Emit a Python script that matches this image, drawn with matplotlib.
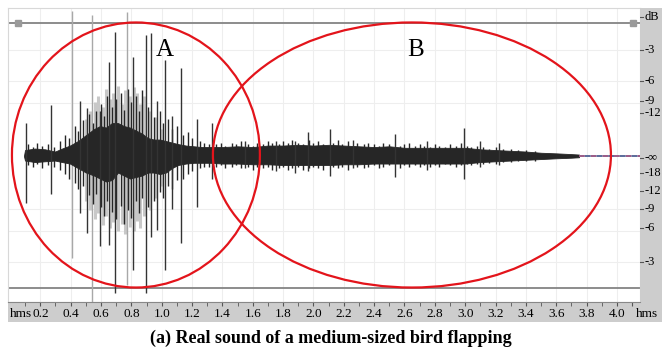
import matplotlib.pyplot as plt
from matplotlib.patches import Ellipse

# dense core of the waveform (dark), seconds / normalised amplitude
body_t = [0.092, 0.099, 0.165, 0.231, 0.297, 0.343, 0.395, 0.448, 0.501, 0.554,
          0.593, 0.633, 0.672, 0.712, 0.751, 0.791, 0.830, 0.870, 0.909, 0.949,
          0.988, 1.028, 1.068, 1.107, 1.160, 1.213, 1.265, 1.318,
          1.40, 1.50, 1.60, 1.70, 1.80, 1.90, 2.00, 2.10, 2.20, 2.30,
          2.40, 2.50, 2.60, 2.70, 2.80, 2.90, 3.00, 3.10, 3.20, 3.30,
          3.40, 3.50, 3.60, 3.70, 3.75]
body_top = [0.0, 0.04, 0.05, 0.045, 0.03, 0.05, 0.07, 0.10, 0.14, 0.18,
            0.20, 0.19, 0.22, 0.22, 0.20, 0.19, 0.17, 0.15, 0.12, 0.11,
            0.11, 0.10, 0.09, 0.08, 0.07, 0.065, 0.06, 0.06,
            0.06, 0.065, 0.06, 0.07, 0.07, 0.075, 0.07, 0.075, 0.07, 0.065,
            0.06, 0.065, 0.055, 0.055, 0.055, 0.055, 0.055, 0.045, 0.04, 0.035,
            0.03, 0.022, 0.018, 0.013, 0.01]
body_bot = [0.0, -0.03, -0.04, -0.035, -0.03, -0.04, -0.05, -0.08, -0.11, -0.13,
            -0.15, -0.17, -0.16, -0.11, -0.13, -0.15, -0.14, -0.13, -0.11, -0.11,
            -0.12, -0.11, -0.08, -0.06, -0.05, -0.045, -0.045, -0.045,
            -0.05, -0.05, -0.055, -0.055, -0.06, -0.06, -0.06, -0.06, -0.055, -0.055,
            -0.05, -0.05, -0.05, -0.05, -0.05, -0.05, -0.05, -0.04, -0.035, -0.03,
            -0.025, -0.02, -0.015, -0.011, -0.008]

# fine hairs of the dense part
hair_t = [0.12, 0.15, 0.18, 0.21, 0.25, 0.29, 0.33, 0.36, 0.39, 0.43,
          0.45, 0.48, 0.52, 0.55, 0.57, 0.60, 0.62, 0.64, 0.67, 0.70,
          0.73, 0.75, 0.78, 0.80, 0.83, 0.85, 0.87, 0.91, 0.95, 0.99,
          1.01, 1.04, 1.07, 1.10, 1.14, 1.17, 1.20, 1.25, 1.28, 1.31,
          1.36, 1.39, 1.42, 1.46, 1.49, 1.52, 1.57, 1.60, 1.63, 1.67,
          1.70, 1.73, 1.77, 1.80, 1.83, 1.86, 1.90, 1.93, 1.97, 2.00,
          2.03, 2.06, 2.13, 2.16, 2.19, 2.23, 2.29, 2.33, 2.36, 2.40,
          2.43, 2.46, 2.50, 2.57, 2.60, 2.63, 2.67, 2.70, 2.73, 2.77,
          2.80, 2.83, 2.87, 2.90, 2.94, 2.97, 3.01, 3.04, 3.08, 3.12,
          3.16, 3.20, 3.25, 3.30, 3.35, 3.40, 3.46]
hair_top = [0.08, 0.06, 0.09, 0.07, 0.08, 0.06, 0.10, 0.14, 0.12, 0.20,
            0.17, 0.24, 0.28, 0.22, 0.30, 0.35, 0.27, 0.40, 0.33, 0.38,
            0.42, 0.31, 0.45, 0.36, 0.40, 0.30, 0.44, 0.33, 0.26, 0.30,
            0.22, 0.25, 0.18, 0.20, 0.14, 0.16, 0.12, 0.10, 0.09, 0.08,
            0.08, 0.09, 0.07, 0.09, 0.08, 0.10, 0.08, 0.07, 0.09, 0.08,
            0.10, 0.09, 0.08, 0.10, 0.09, 0.11, 0.09, 0.08, 0.11, 0.09,
            0.10, 0.08, 0.09, 0.11, 0.08, 0.10, 0.09, 0.08, 0.09, 0.08,
            0.07, 0.09, 0.08, 0.07, 0.08, 0.09, 0.07, 0.08, 0.07, 0.06,
            0.08, 0.07, 0.06, 0.08, 0.07, 0.09, 0.07, 0.06, 0.07, 0.06,
            0.05, 0.06, 0.05, 0.045, 0.04, 0.04, 0.035]
hair_bot = [-0.06, -0.07, -0.05, -0.08, -0.06, -0.07, -0.09, -0.12, -0.15, -0.18,
            -0.22, -0.20, -0.26, -0.32, -0.25, -0.34, -0.40, -0.30, -0.37, -0.42,
            -0.33, -0.45, -0.36, -0.41, -0.30, -0.38, -0.28, -0.34, -0.30, -0.24,
            -0.28, -0.20, -0.22, -0.16, -0.15, -0.12, -0.10, -0.08, -0.07, -0.07,
            -0.07, -0.06, -0.08, -0.07, -0.06, -0.08, -0.07, -0.09, -0.07, -0.08,
            -0.07, -0.09, -0.08, -0.07, -0.09, -0.08, -0.07, -0.09, -0.08, -0.07,
            -0.08, -0.09, -0.07, -0.08, -0.07, -0.09, -0.07, -0.08, -0.07, -0.06,
            -0.08, -0.07, -0.06, -0.08, -0.06, -0.07, -0.06, -0.07, -0.06, -0.07,
            -0.06, -0.07, -0.05, -0.06, -0.07, -0.06, -0.05, -0.06, -0.05, -0.05,
            -0.045, -0.05, -0.04, -0.04, -0.035, -0.03, -0.03]

# light grey traces in the loud part
light_t = [0.50, 0.53, 0.56, 0.58, 0.61, 0.63, 0.66, 0.68, 0.71, 0.74,
           0.76, 0.79, 0.82, 0.84, 0.86, 0.88, 0.92, 0.96, 1.00]
light_top = [0.25, 0.30, 0.36, 0.40, 0.33, 0.45, 0.38, 0.42, 0.47, 0.35,
             0.44, 0.40, 0.46, 0.42, 0.35, 0.40, 0.30, 0.26, 0.18]
light_bot = [-0.30, -0.36, -0.42, -0.38, -0.46, -0.40, -0.48, -0.44, -0.50, -0.45,
             -0.52, -0.47, -0.50, -0.43, -0.48, -0.40, -0.36, -0.28, -0.20]

# single peaks
spike_t = [0.105, 0.270, 0.461, 0.507, 0.593, 0.652, 0.692, 0.811, 0.896, 0.929,
           0.969, 1.021, 1.068, 1.127, 1.232, 1.331,
           1.55, 1.753, 1.878, 1.964, 2.109, 2.260, 2.537, 2.75, 2.992, 3.10, 3.22]
spike_top = [0.22, 0.34, 0.37, 0.32, 0.30, 0.63, 0.83, 0.66, 0.81, 0.82,
             0.37, 0.64, 0.27, 0.59, 0.25, 0.22,
             0.10, 0.10, 0.10, 0.16, 0.18, 0.11, 0.15, 0.10, 0.19, 0.10, 0.09]
spike_bot = [-0.31, -0.25, -0.38, -0.51, -0.60, -0.59, -0.91, -0.76, -0.91, -0.54,
             -0.49, -0.76, -0.35, -0.58, -0.34, -0.15,
             -0.08, -0.10, -0.11, -0.10, -0.13, -0.08, -0.14, -0.09, -0.15, -0.07, -0.06]
# thin light lines that reach the top
tall_t = [0.409, 0.540, 0.771]
tall_top = [0.97, 0.94, 0.96]
tall_bot = [-0.68, -0.97, -0.86]

# tail of the clip drawn as a dashed trace
tail_t = [3.75, 4.15]

# annotation ellipses: centre t, centre amp, width s, height amp
ell_name = ["A", "B"]
ell_cx = [0.830, 2.649]
ell_cy = [0.007, 0.007]
ell_w = [1.634, 2.623]
ell_h = [1.767, 1.767]
lab_t = [1.021, 2.675]
lab_a = [0.71, 0.71]

db_labels = ["dB", "-3", "-6", "-9", "-12", "-\u221e", "-18", "-12", "-9", "-6", "-3"]
db_amp = [0.93, 0.708, 0.501, 0.37, 0.285, -0.01, -0.11, -0.235, -0.355, -0.48, -0.708]
time_ticks = [0.2, 0.4, 0.6, 0.8, 1.0, 1.2, 1.4, 1.6, 1.8, 2.0,
              2.2, 2.4, 2.6, 2.8, 3.0, 3.2, 3.4, 3.6, 3.8, 4.0]

W, H = 662, 352
serif = ["Liberation Serif", "DejaVu Serif"]
t0, t1 = -0.013, 4.152
a0, a1 = -0.973, 0.987
dark = "#262626"

fig = plt.figure(figsize=(W / 100, H / 100), dpi=100)

ax = fig.add_axes([8 / W, 50 / H, 632 / W, 294 / H])
ax.set_xlim(t0, t1)
ax.set_ylim(a0, a1)
for s in ax.spines.values():
    s.set_color("#d8d8d8")
ax.set_xticks([])
ax.set_yticks([])
for t in time_ticks:
    ax.axvline(t, color="#eeeeee", lw=0.8, zorder=0)
for a in [0.708, 0.501, 0.355, -0.355, -0.501, -0.708]:
    ax.axhline(a, color="#eeeeee", lw=0.8, zorder=0)

ax.axhline(0.89, color="#8c8c8c", lw=1.4, zorder=1)
ax.axhline(-0.88, color="#8c8c8c", lw=1.4, zorder=1)
ax.plot([0.055, 4.103], [0.89, 0.89], "s", color="#9a9a9a", ms=4, zorder=2)

ax.vlines(light_t, light_bot, light_top, color="#c8c8c8", lw=2.2, zorder=2)
ax.vlines(tall_t, tall_bot, tall_top, color="#a8a8a8", lw=1.0, zorder=2)
ax.fill_between(body_t, body_bot, body_top, color=dark, lw=0.6,
                edgecolor=dark, zorder=3)
ax.vlines(hair_t, hair_bot, hair_top, color=dark, lw=1.0, zorder=3)
ax.vlines(spike_t, spike_bot, spike_top, color="#333333", lw=1.0, zorder=3)
ax.plot(tail_t, [0, 0], color="#9a5a86", lw=1.4, ls=(0, (3, 3)), zorder=3)
ax.plot(tail_t, [0, 0], color="#5a6a9a", lw=1.4, ls=(3, (3, 3)), zorder=3)

for i in range(len(ell_name)):
    ax.add_patch(Ellipse((ell_cx[i], ell_cy[i]), ell_w[i], ell_h[i], fill=False,
                         edgecolor="#e3141b", lw=1.6, zorder=5))
    ax.text(lab_t[i], lab_a[i], ell_name[i], fontsize=18, family=serif,
            ha="center", va="center", zorder=6)

# right dB strip
ar = fig.add_axes([640 / W, 30 / H, 22 / W, 314 / H])
ar.set_facecolor("#cdcdcd")
ar.set_xlim(0, 1)
ar.set_ylim(a0 - 20 / 150, a1)
for s in ar.spines.values():
    s.set_visible(False)
ar.set_xticks([])
ar.set_yticks([])
for lab, a in zip(db_labels, db_amp):
    ar.plot([0.0, 0.12], [a, a], color="#555555", lw=0.8)
    ar.text(0.22, a, lab, fontsize=9, family=serif, ha="left", va="center")

# bottom time strip
ab = fig.add_axes([8 / W, 30 / H, 632 / W, 20 / H])
ab.set_facecolor("#cdcdcd")
ab.set_xlim(t0, t1)
ab.set_ylim(0, 1)
for s in ab.spines.values():
    s.set_visible(False)
ab.spines["top"].set_visible(True)
ab.spines["top"].set_color("#888888")
ab.set_yticks([])
ab.xaxis.set_ticks_position("top")
ab.set_xticks(time_ticks + [4.1])
ab.set_xticks([t - 0.1 for t in time_ticks] + [4.1], minor=True)
ab.tick_params(axis="x", which="both", direction="in", length=3, color="#555555",
               labeltop=False)
for t in time_ticks:
    ab.text(t, 0.42, f"{t:.1f}", fontsize=9.5, family=serif, ha="center", va="center")
ab.text(0.0, 0.42, "hms", fontsize=9.5, family=serif, ha="left", va="center")
ab.text(4.2, 0.42, "hms", fontsize=9.5, family=serif, ha="center", va="center",
        clip_on=False)

fig.text(0.5, 14 / H, "(a) Real sound of a medium-sized bird flapping",
         fontsize=13, fontweight="bold", family=serif, ha="center", va="center")

fig.savefig("out.png", dpi=100)
